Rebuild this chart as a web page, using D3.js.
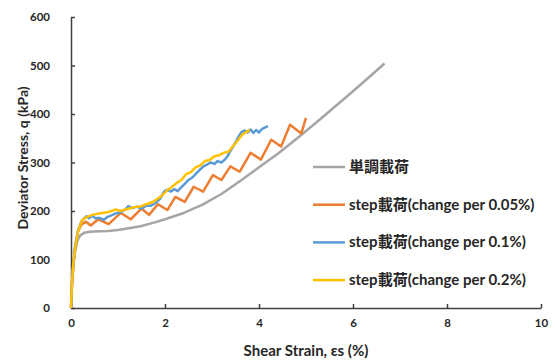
<!DOCTYPE html>
<html>
<head>
<meta charset="utf-8">
<script src="https://cdn.jsdelivr.net/npm/d3@7"></script>
<style>
  body { margin: 0; background: #fff; }
  svg { display: block; }
</style>
</head>
<body>
<div id="chart"></div>
<script>

var width = 555;
var height = 360;

// strain (%) , q (kPa)
var monoStrain = [0, 0.02, 0.05, 0.09, 0.14, 0.2, 0.28, 0.4, 0.6, 0.8, 1.0, 1.2, 1.5, 1.8, 2.0, 2.4, 2.8, 3.2, 3.6, 4.0, 4.4, 4.8, 5.2, 5.6, 6.0, 6.4, 6.67];
var monoQ      = [0, 45, 85, 118, 140, 150, 155, 157, 158, 159, 161, 164, 169, 177, 183, 196, 213, 235, 262, 290, 318, 349, 381, 414, 447, 481, 504];

var step005Strain = [0, 0.02, 0.05, 0.09, 0.15, 0.22, 0.32, 0.42, 0.58, 0.8, 1.06, 1.27, 1.5, 1.66, 1.85, 2.05, 2.22, 2.42, 2.61, 2.81, 3.02, 3.2, 3.39, 3.59, 3.82, 4.04, 4.26, 4.47, 4.66, 4.9, 5.0];
var step005Q      = [0, 50, 92, 128, 158, 172, 178, 170, 183, 173, 196, 183, 205, 192, 214, 202, 229, 219, 250, 240, 274, 264, 292, 281, 320, 306, 347, 333, 378, 360, 392];

var step01Strain = [0, 0.02, 0.05, 0.09, 0.15, 0.22, 0.28, 0.33, 0.38, 0.45, 0.52, 0.6, 0.7, 0.78, 0.86, 0.95, 1.05, 1.15, 1.22, 1.3, 1.4, 1.5, 1.6, 1.7, 1.8, 1.9, 1.98, 2.05, 2.12, 2.2, 2.27, 2.34, 2.42, 2.5, 2.58, 2.66, 2.74, 2.82, 2.9, 2.97, 3.05, 3.12, 3.2, 3.27, 3.33, 3.38, 3.45, 3.52, 3.58, 3.63, 3.7, 3.76, 3.82, 3.88, 3.94, 4.0, 4.06, 4.12, 4.19];
var step01Q      = [0, 50, 93, 128, 160, 178, 185, 189, 185, 190, 185, 186, 182, 188, 191, 195, 197, 203, 210, 206, 209, 205, 211, 211, 216, 226, 240, 244, 240, 245, 241, 248, 256, 264, 269, 277, 285, 292, 296, 300, 297, 303, 300, 306, 313, 322, 333, 345, 356, 363, 366, 362, 368, 361, 367, 362, 369, 372, 375];

var step02Strain = [0, 0.02, 0.05, 0.09, 0.15, 0.23, 0.3, 0.45, 0.6, 0.8, 0.95, 1.05, 1.2, 1.35, 1.5, 1.6, 1.75, 1.85, 1.95, 2.05, 2.15, 2.25, 2.35, 2.45, 2.55, 2.65, 2.75, 2.85, 2.95, 3.05, 3.15, 3.25, 3.35, 3.45, 3.55, 3.65, 3.75, 3.8];
var step02Q      = [0, 50, 92, 125, 158, 180, 186, 192, 195, 198, 203, 200, 204, 208, 210, 214, 219, 226, 233, 243, 250, 258, 264, 276, 280, 290, 294, 303, 305, 313, 315, 320, 322, 334, 346, 358, 364, 368];

var legendLabels = ["単調載荷", "step載荷(change per 0.05%)", "step載荷(change per 0.1%)", "step載荷(change per 0.2%)"];
var colors = ["#A5A5A5", "#ED7D31", "#5B9BD5", "#FFC000"];

var xTicks = [0, 2, 4, 6, 8, 10];
var yTicks = [0, 100, 200, 300, 400, 500, 600];

function pairs(xs, ys) {
	return xs.map(function(d, i) { return { s: d, q: ys[i] }; });
}

var series = [
	pairs(monoStrain, monoQ),
	pairs(step005Strain, step005Q),
	pairs(step01Strain, step01Q),
	pairs(step02Strain, step02Q)
];

var svg = d3.select("#chart")
	.append("svg")
	.attr("width", width)
	.attr("height", height)
	;

var x = d3.scaleLinear()
	.domain([0, 10])
	.range([71, 541])
	;

var y = d3.scaleLinear()
	.domain([0, 600])
	.range([308, 17])
	;

var font = "Lato, 'Noto Sans CJK JP', sans-serif";
var axisColor = "#404040";

// axes
var xAxis = svg.append("g")
	.attr("transform", "translate(0,308)")
	.call(d3.axisBottom(x).tickValues(xTicks).tickSizeInner(-4).tickSizeOuter(0).tickPadding(11))
	;

var yAxis = svg.append("g")
	.attr("transform", "translate(71,0)")
	.call(d3.axisLeft(y).tickValues(yTicks).tickSizeInner(-4).tickSizeOuter(0).tickPadding(21))
	;

[xAxis, yAxis].forEach(function(g) {
	g.select(".domain").attr("stroke", axisColor).attr("stroke-width", 1.5);
	g.selectAll(".tick line").attr("stroke", axisColor).attr("stroke-width", 1.5);
	g.selectAll(".tick text")
		.attr("fill", "#262626")
		.attr("font-family", font)
		.attr("font-weight", "bold")
		.attr("font-size", "11.5px")
		;
});

// axis titles
svg.append("text")
	.attr("x", 306)
	.attr("y", 356)
	.attr("text-anchor", "middle")
	.attr("font-family", font)
	.attr("font-weight", "bold")
	.attr("font-size", "15px")
	.attr("fill", "#262626")
	.text("Shear Strain, εs (%)")
	;

svg.append("text")
	.attr("transform", "translate(28,158) rotate(-90)")
	.attr("text-anchor", "middle")
	.attr("font-family", font)
	.attr("font-weight", "bold")
	.attr("font-size", "14px")
	.attr("fill", "#262626")
	.text("Deviator Stress, q (kPa)")
	;

// curves
var line = d3.line()
	.x(function(d) { return x(d.s); })
	.y(function(d) { return y(d.q); })
	;

svg.selectAll("path.curve")
	.data(series)
	.enter()
	.append("path")
	.attr("class", "curve")
	.attr("fill", "none")
	.attr("stroke", function(d, i) { return colors[i]; })
	.attr("stroke-width", 2.5)
	.attr("stroke-linejoin", "round")
	.attr("d", line)
	;

// legend
var legend = svg.selectAll("g.legend")
	.data(legendLabels)
	.enter()
	.append("g")
	.attr("class", "legend")
	.attr("transform", function(d, i) { return "translate(313," + (167 + i * 37.7) + ")"; })
	;

legend.append("line")
	.attr("x1", 0)
	.attr("x2", 32)
	.attr("stroke", function(d, i) { return colors[i]; })
	.attr("stroke-width", 2.5)
	;

legend.append("text")
	.attr("x", 36)
	.attr("y", 5)
	.attr("font-family", font)
	.attr("font-weight", "bold")
	.attr("font-size", "15px")
	.attr("fill", "#262626")
	.text(function(d) { return d; })
	;

</script>
</body>
</html>
